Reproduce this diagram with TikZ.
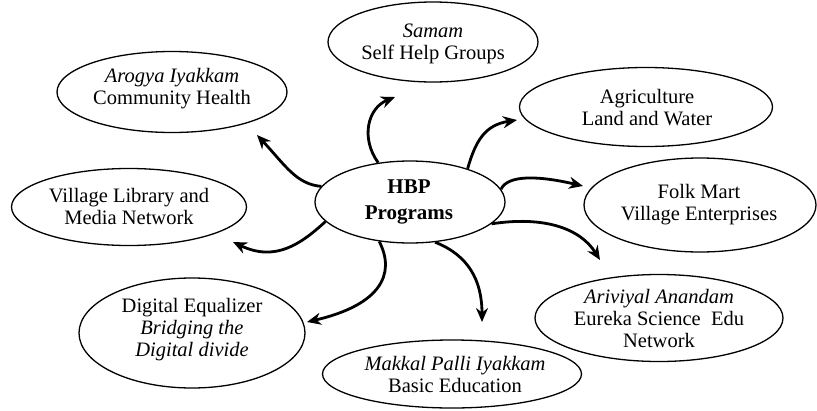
\documentclass[tikz,border=0pt]{standalone}
\usepackage{fontspec}
\setmainfont{Liberation Serif}
\usetikzlibrary{shapes.geometric,arrows.meta}
\begin{document}
\begin{tikzpicture}[x=1pt,y=-1pt,
  oval/.style={draw,ellipse,line width=1.3pt,inner sep=0pt},
  txt/.style={align=center,font=\fontsize{20.5}{22}\selectfont,inner sep=0pt},
  conn/.style={line width=2.8pt,-{Stealth[length=14pt,width=12pt]}}]
\useasboundingbox (0,0) rectangle (817,410);
% ellipses
\node[oval,minimum width=210pt,minimum height=80pt] (samam) at (433,42) {};
\node[oval,minimum width=230pt,minimum height=81pt] (arogya) at (172,92) {};
\node[oval,minimum width=253pt,minimum height=79pt] (agri) at (646,107) {};
\node[oval,minimum width=235pt,minimum height=77pt] (lib) at (129,207) {};
\node[oval,minimum width=190pt,minimum height=82pt] (hbp) at (410,202) {};
\node[oval,minimum width=232pt,minimum height=94pt] (folk) at (700,205) {};
\node[oval,minimum width=226pt,minimum height=110pt] (digital) at (192,333) {};
\node[oval,minimum width=259pt,minimum height=68pt] (makkal) at (452,374) {};
\node[oval,minimum width=248pt,minimum height=87pt] (ariv) at (659,318) {};
% texts
\node[txt] (samamT) at (433,44) {\textit{Samam}\\Self Help Groups};
\node[txt] (arogyaT) at (172,89) {\textit{Arogya Iyakkam}\\Community Health};
\node[txt] (agriT) at (647,107.5) {Agriculture\\Land and Water};
\node[txt] (libT) at (129,206) {Village Library and\\Media Network};
\node[txt,font=\fontsize{21}{26}\selectfont\bfseries] (hbpT) at (409,202) {HBP\\Programs};
\node[txt] (folkT) at (699,205) {Folk Mart\\Village Enterprises};
\node[txt] (digitalT) at (192,330) {Digital Equalizer\\\textit{Bridging the}\\\textit{Digital divide}};
\node[txt] (makkalT) at (455,374) {\textit{Makkal Palli Iyakkam}\\Basic Education};
\node[txt] (arivT) at (659,318) {\textit{Ariviyal Anandam}\\Eureka Science~ Edu\\Network};
% arrow tips
\coordinate (tS) at (395,97);
\coordinate (tAr) at (257,135);
\coordinate (tAg) at (517,120);
\coordinate (tF) at (583,186);
\coordinate (tAv) at (600,260);
\coordinate (tM) at (482,322);
\coordinate (tD) at (307,322);
\coordinate (tL) at (233,242);
% connectors
\draw[conn] (hbp.129) .. controls +(-18,-25) and +(-27,11) .. (tS);
\draw[conn] (hbp.170) .. controls +(-25,-2) and +(28,30) .. (tAr);
\draw[conn] (hbp.30) .. controls +(8,-28) and +(-32,5) .. (tAg);
\draw[conn] (hbp.8) .. controls +(7,-15) and +(-43,-10) .. (tF);
\draw[conn] (hbp.-15) .. controls +(52,-8) and +(-20,-32) .. (tAv);
\draw[conn] (hbp.-58) .. controls +(33,13) and +(0,-42) .. (tM);
\draw[conn] (hbp.232) .. controls +(17,33) and +(73,-17) .. (tD);
\draw[conn] (hbp.193) .. controls +(-25,23) and +(42,20) .. (tL);
\end{tikzpicture}
\end{document}
